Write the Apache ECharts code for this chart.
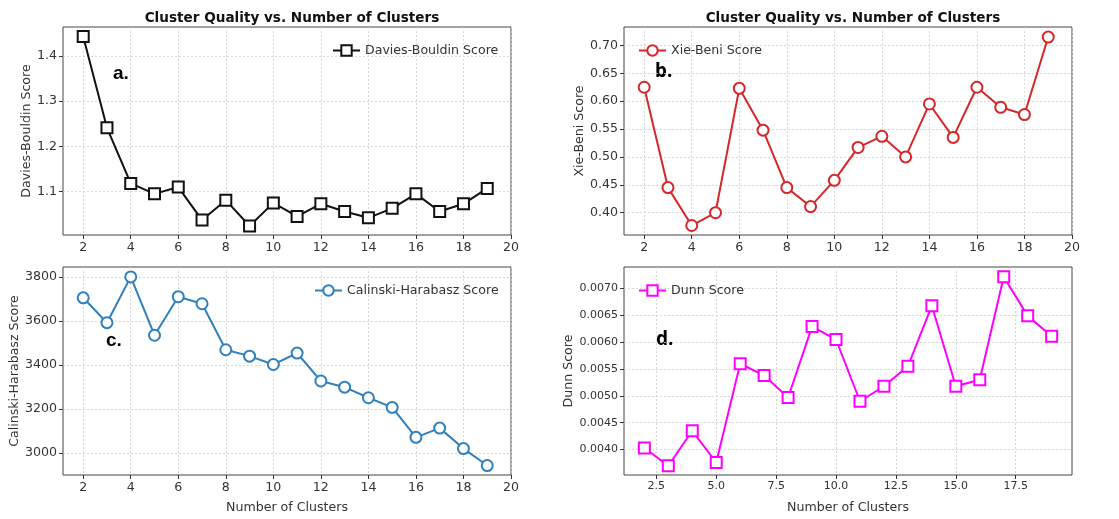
<!DOCTYPE html>
<html>
<head>
<meta charset="utf-8">
<script src="https://cdn.jsdelivr.net/npm/echarts@6/dist/echarts.min.js"></script>
<style>
  html, body { margin: 0; padding: 0; background: #fff; }
  #chart { width: 1119px; height: 519px; }
</style>
</head>
<body>
<div id="chart"></div>
<script>
const clusters = [2, 3, 4, 5, 6, 7, 8, 9, 10, 11, 12, 13, 14, 15, 16, 17, 18, 19];
const daviesBouldin = [1.443, 1.241, 1.118, 1.095, 1.110, 1.037, 1.081, 1.024, 1.075, 1.045, 1.073, 1.056, 1.042, 1.063, 1.095, 1.056, 1.073, 1.107];
const xieBeni = [0.625, 0.445, 0.377, 0.400, 0.623, 0.548, 0.445, 0.411, 0.458, 0.517, 0.537, 0.500, 0.595, 0.535, 0.625, 0.589, 0.576, 0.715];
const calinski = [3705, 3592, 3800, 3535, 3710, 3678, 3469, 3440, 3402, 3454, 3327, 3299, 3251, 3207, 3071, 3113, 3020, 2943];
const dunn = [0.00403, 0.00370, 0.00435, 0.00376, 0.00560, 0.00538, 0.00497, 0.00629, 0.00605, 0.00490, 0.00518, 0.00555, 0.00668, 0.00518, 0.00530, 0.00722, 0.00649, 0.00611];

const clusterTicks = [2, 4, 6, 8, 10, 12, 14, 16, 18, 20];
const dunnXTicks = [2.5, 5, 7.5, 10, 12.5, 15, 17.5];
const dbTicks = [1.1, 1.2, 1.3, 1.4];
const xbTicks = [0.40, 0.45, 0.50, 0.55, 0.60, 0.65, 0.70];
const chTicks = [3000, 3200, 3400, 3600, 3800];
const dunnTicks = [0.0040, 0.0045, 0.0050, 0.0055, 0.0060, 0.0065, 0.0070];

const titleText = 'Cluster Quality vs. Number of Clusters';
const font = 'DejaVu Sans';

const grids = [
  {left: 63, top: 27, width: 448, height: 208},
  {left: 624, top: 27, width: 448, height: 208},
  {left: 63, top: 267, width: 448, height: 208},
  {left: 624, top: 267, width: 448, height: 208}
];

function xAxis(idx, min, max, ticks, digits, name, fs) {
  return {
    type: 'value', gridIndex: idx, min: min, max: max,
    name: name || '', nameLocation: 'middle', nameGap: 26,
    nameTextStyle: {fontFamily: font, fontSize: 12.6, color: '#333'},
    axisLine: {show: false},
    axisTick: {show: true, length: 4, customValues: ticks, lineStyle: {color: '#333'}},
    axisLabel: {customValues: ticks, fontFamily: font, fontSize: fs || 12.6, color: '#333', margin: 6,
      formatter: (v) => v.toFixed(digits)},
    splitLine: {show: true, lineStyle: {color: '#cfcfcf', type: [2, 2], width: 0.8}}
  };
}

function yAxis(idx, min, max, ticks, digits, name, gap, fs) {
  return {
    type: 'value', gridIndex: idx, min: min, max: max,
    name: name, nameLocation: 'middle', nameGap: gap,
    nameTextStyle: {fontFamily: font, fontSize: 12.6, color: '#333'},
    axisLine: {show: false},
    axisTick: {show: true, length: 4, customValues: ticks, lineStyle: {color: '#333'}},
    axisLabel: {customValues: ticks, fontFamily: font, fontSize: fs || 12.6, color: '#333', margin: 6,
      formatter: (v) => v.toFixed(digits)},
    splitLine: {show: true, lineStyle: {color: '#cfcfcf', type: [2, 2], width: 0.8}}
  };
}

function lineSeries(idx, name, values, color, symbol) {
  return {
    type: 'line', name: name, xAxisIndex: idx, yAxisIndex: idx,
    data: clusters.map((c, i) => [c, values[i]]),
    symbol: symbol, symbolSize: 11,
    lineStyle: {color: color, width: 2},
    itemStyle: {color: '#fff', borderColor: color, borderWidth: 2},
    color: color,
    emphasis: {disabled: true},
    animation: false
  };
}

function legend(idx, name, left, top) {
  return {
    show: true, data: [name], left: left, top: top,
    itemWidth: 27, itemHeight: 13, itemGap: 0,
    textStyle: {fontFamily: font, fontSize: 12.6, color: '#333'}
  };
}

const myChart = echarts.init(document.getElementById('chart'), null, {renderer: 'canvas'});

const option = {
  backgroundColor: '#fff',
  animation: false,
  title: [
    {text: titleText, left: 287, top: 6, textAlign: 'center',
      textStyle: {fontFamily: font, fontSize: 13.6, fontWeight: 'bold', color: '#111'}},
    {text: titleText, left: 848, top: 6, textAlign: 'center',
      textStyle: {fontFamily: font, fontSize: 13.6, fontWeight: 'bold', color: '#111'}}
  ],
  grid: grids.map((g) => Object.assign({show: true, borderColor: '#444', borderWidth: 1, backgroundColor: 'transparent'}, g)),
  xAxis: [
    xAxis(0, 1.15, 20, clusterTicks, 0),
    xAxis(1, 1.15, 20, clusterTicks, 0),
    xAxis(2, 1.15, 20, clusterTicks, 0, 'Number of Clusters'),
    xAxis(3, 1.15, 19.85, dunnXTicks, 1, 'Number of Clusters', 11)
  ],
  yAxis: [
    yAxis(0, 1.004, 1.464, dbTicks, 1, 'Davies-Bouldin Score', 30),
    yAxis(1, 0.360, 0.733, xbTicks, 2, 'Xie-Beni Score', 38),
    yAxis(2, 2900, 3845, chTicks, 0, 'Calinski-Harabasz Score', 42),
    yAxis(3, 0.003527, 0.0074, dunnTicks, 4, 'Dunn Score', 48, 11)
  ],
  legend: [
    legend(0, 'Davies-Bouldin Score', 327, 39),
    legend(1, 'Xie-Beni Score', 633, 39),
    legend(2, 'Calinski-Harabasz Score', 309, 279),
    legend(3, 'Dunn Score', 633, 279)
  ],
  series: [
    lineSeries(0, 'Davies-Bouldin Score', daviesBouldin, '#111111', 'rect'),
    lineSeries(1, 'Xie-Beni Score', xieBeni, '#d62728', 'circle'),
    lineSeries(2, 'Calinski-Harabasz Score', calinski, '#2f80bd', 'circle'),
    lineSeries(3, 'Dunn Score', dunn, '#ff00ff', 'rect')
  ],
  graphic: [
    {type: 'text', left: 113, top: 64, style: {text: 'a.', font: 'bold 19px "Liberation Sans"', fill: '#000'}},
    {type: 'text', left: 655, top: 62, style: {text: 'b.', font: 'bold 19px "Noto Sans"', fill: '#000'}},
    {type: 'text', left: 106, top: 331, style: {text: 'c.', font: 'bold 19px "Liberation Sans"', fill: '#000'}},
    {type: 'text', left: 656, top: 330, style: {text: 'd.', font: 'bold 19px "Noto Sans"', fill: '#000'}}
  ]
};

myChart.setOption(option);
</script>
</body>
</html>
